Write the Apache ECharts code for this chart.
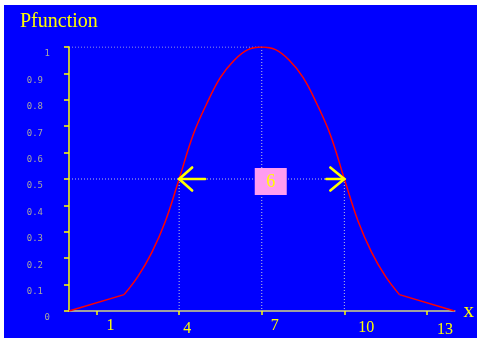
<!DOCTYPE html>
<html>
<head>
<meta charset="utf-8">
<script src="https://cdn.jsdelivr.net/npm/echarts@6/dist/echarts.min.js"></script>
<style>
  html, body { margin: 0; padding: 0; background: #ffffff; }
  #chart {
    position: absolute; left: 0; top: 0; width: 477px; height: 338px;
    background: linear-gradient(#0000ff, #0000ff) 4px 5px / 473px 333px no-repeat, #ffffff;
  }
</style>
</head>
<body>
<div id="chart"></div>
<script>
// Curve samples of P(x)
const xs = [0, 2, 2.5, 3, 3.5, 4, 4.5, 5, 5.5, 6, 6.5, 7, 7.5, 8, 8.5, 9, 9.5, 10, 10.5, 11, 11.5, 12, 14];
const ys = [0, 0.062, 0.13, 0.22, 0.34, 0.5, 0.665, 0.785, 0.885, 0.95, 0.99, 1, 0.99, 0.95, 0.885, 0.785, 0.665, 0.5, 0.34, 0.22, 0.13, 0.062, 0];

// Peak and half-level crossings
const peakX = 7;
const peakY = 1;
const halfLevel = 0.5;
const leftCross = 4;
const rightCross = 10;

// Axis ticks and labels
const xTickValues = [1, 4, 7, 10, 13];
const yTickLabels = ['0', '0.1', '0.2', '0.3', '0.4', '0.5', '0.6', '0.7', '0.8', '0.9', '1'];

const YELLOW = '#ffff00';
const SERIF = "'Liberation Serif', 'Times New Roman', serif";

const pts = xs.map((x, i) => [x, ys[i]]);
const firstCore = 1, lastCore = pts.length - 2;
const coreData = pts.slice(firstCore, lastCore + 1);
const leftTail = pts.slice(0, firstCore + 1);
const rightTail = pts.slice(lastCore);

// Dotted guides
const guides = [
  [[0, peakY], [peakX, peakY]],
  [[peakX, peakY], [peakX, 0]],
  [[0, halfLevel], [rightCross, halfLevel]],
  [[leftCross, halfLevel], [leftCross, 0]],
  [[rightCross, halfLevel], [rightCross, 0]]
];

// Per-label nudges for the x tick labels: [dx, dy]
const xLabelNudge = { 1: [14, 0], 4: [8, 3], 7: [13, 0], 10: [22, 2], 13: [18, 4] };
const xRich = {};
xTickValues.forEach(v => {
  const n = xLabelNudge[v];
  xRich['t' + v] = {
    color: YELLOW, fontFamily: SERIF, fontSize: 16,
    padding: [n[1], 0, 0, 2 * n[0]]
  };
});

const chart = echarts.init(document.getElementById('chart'), null, { renderer: 'canvas' });

const guideSeries = guides.map(seg => ({
  type: 'line',
  data: seg,
  symbol: 'none',
  silent: true,
  z: 1,
  lineStyle: { color: '#c4c4d8', width: 1, type: [1, 2] },
  animation: false
}));

chart.setOption({
  backgroundColor: 'transparent',
  animation: false,
  title: {
    text: 'Pfunction',
    left: 20, top: 12, padding: 0,
    textStyle: { color: YELLOW, fontFamily: SERIF, fontSize: 20, fontWeight: 'normal' }
  },
  grid: { left: 69, right: 19, top: 47, bottom: 25, containLabel: false },
  xAxis: {
    type: 'value', min: 0, max: 14,
    name: 'x',
    nameLocation: 'end',
    nameGap: 9,
    nameTextStyle: { color: YELLOW, fontFamily: SERIF, fontSize: 21, verticalAlign: 'middle', padding: [12, 0, 0, 0] },
    axisLine: { show: true, onZero: false, lineStyle: { color: '#a0a0a0', width: 2 } },
    axisTick: { show: true, customValues: xTickValues, length: 4, lineStyle: { color: YELLOW, width: 1.5 } },
    axisLabel: {
      show: true, customValues: xTickValues, margin: 7,
      formatter: v => '{t' + v + '|' + v + '}',
      rich: xRich
    },
    splitLine: { show: false }
  },
  yAxis: {
    type: 'value', min: 0, max: 1, interval: 0.1,
    axisLine: { show: true, lineStyle: { color: YELLOW, width: 1.5 } },
    axisTick: { show: true, length: 5, lineStyle: { color: YELLOW, width: 1.5 } },
    axisLabel: {
      show: true, margin: 19,
      formatter: (v, i) => {
        const s = yTickLabels[i];
        return s.indexOf('.') >= 0 ? '{d|' + s + '}' : '{n|' + s + '}';
      },
      rich: {
        n: { color: '#a8a8a0', fontFamily: "'DejaVu Sans Mono', monospace", fontSize: 9, padding: [14, 0, 0, 0] },
        d: { color: '#a8a8a0', fontFamily: "'DejaVu Sans Mono', monospace", fontSize: 9, padding: [14, 7, 0, 0] }
      }
    },
    splitLine: { show: false }
  },
  series: [
    ...guideSeries,
    {
      type: 'line', data: leftTail, symbol: 'none', z: 3,
      lineStyle: { color: '#ff0000', width: 1.5 }
    },
    {
      type: 'line', data: rightTail, symbol: 'none', z: 3,
      lineStyle: { color: '#ff0000', width: 1.5 }
    },
    {
      type: 'line', data: coreData, symbol: 'none', smooth: 0.4, z: 3,
      lineStyle: { color: '#ff0000', width: 1.5 }
    },
    {
      // Open arrows at the half-level crossings
      type: 'custom', z: 5,
      data: [[leftCross, halfLevel, -1], [rightCross, halfLevel, 1]],
      renderItem: (params, api) => {
        const tip = api.coord([api.value(0), api.value(1)]);
        const dir = api.value(2);
        const shaft = dir < 0 ? 26 : 18;
        const wx = dir < 0 ? 13 : 14;
        const style = { stroke: YELLOW, lineWidth: 2.6, fill: 'none', lineCap: 'round' };
        return {
          type: 'group',
          children: [
            { type: 'line', shape: { x1: tip[0], y1: tip[1], x2: tip[0] - dir * shaft, y2: tip[1] }, style },
            { type: 'polyline', shape: { points: [[tip[0] - dir * wx, tip[1] - 11.5], tip, [tip[0] - dir * wx, tip[1] + 11.5]] }, style }
          ]
        };
      }
    },
    {
      // Width label between the crossings
      type: 'custom', z: 6,
      data: [[leftCross, rightCross, halfLevel]],
      renderItem: (params, api) => {
        const l = api.value(0), r = api.value(1);
        const c = api.coord([(l + r) / 2, api.value(2)]);
        const cx = c[0] + 9, cy = c[1] + 2.5;
        return {
          type: 'group',
          children: [
            { type: 'rect', shape: { x: cx - 16, y: cy - 13.5, width: 32, height: 27 }, style: { fill: '#ff9cf0' } },
            { type: 'text', style: { x: cx, y: cy + 1, text: String(r - l), fill: YELLOW, font: '18px ' + SERIF, align: 'center', verticalAlign: 'middle' } }
          ]
        };
      }
    }
  ]
});
</script>
</body>
</html>
